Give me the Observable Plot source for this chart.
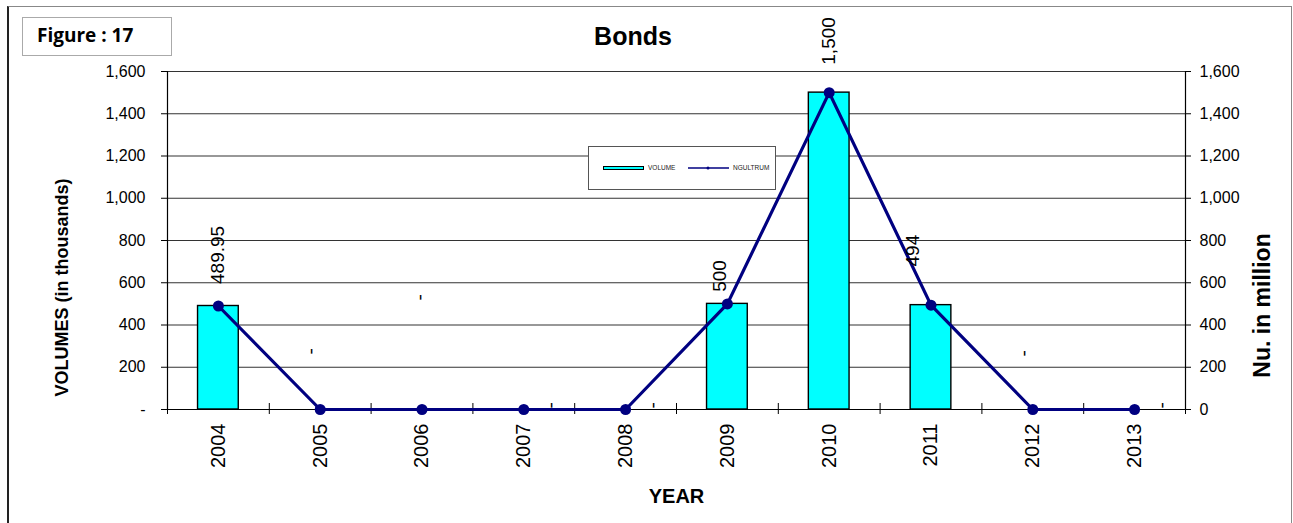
<!DOCTYPE html>
<html>
<head>
<meta charset="utf-8">
<script src="https://cdn.jsdelivr.net/npm/d3@7"></script>
<script src="https://cdn.jsdelivr.net/npm/@observablehq/plot@0.6"></script>
<style>
  body { margin: 0; background: #fff; font-family: "Liberation Sans", Arial, sans-serif; }
  #wrap { position: relative; width: 1293px; height: 523px; overflow: hidden; }
  #border { position: absolute; left: 7px; top: 6px; width: 1285px; height: 600px;
            border: 1px solid #888; border-left: 2px solid #222; box-sizing: border-box; }
  #chart { position: absolute; left: 0; top: 0; }
  #fig { position: absolute; left: 22px; top: 17px; width: 150px; height: 39px; box-sizing: border-box;
         border: 1px solid #aaa; font: bold 19px "Open Sans", Lato, sans-serif; padding: 4px 0 0 14px;
         background: #fff; }
  #title { position: absolute; left: 533px; width: 200px; top: 22px; text-align: center;
           font: bold 25px "Liberation Sans", Arial, sans-serif; }
  #legend { position: absolute; left: 588px; top: 146px; width: 188px; height: 44px; box-sizing: border-box;
            background: #fff; border: 1px solid #555; }
  #legend .sw { position: absolute; left: 14px; top: 19px; width: 41px; height: 4px; background: #00ffff;
                border: 1.5px solid #000; box-sizing: border-box; }
  #legend .tx { position: absolute; top: 17px; font-size: 6.5px; color: #222; }
</style>
</head>
<body>
<div id="wrap">
  <div id="border"></div>
  <div id="chart"></div>
  <div id="fig">Figure : 17</div>
  <div id="title">Bonds</div>
  <div id="legend">
    <div class="sw"></div>
    <div class="tx" style="left:59px">VOLUME</div>
    <svg style="position:absolute;left:98px;top:16px" width="44" height="10">
      <line x1="1" y1="5" x2="42" y2="5" stroke="#000080" stroke-width="1.5"></line>
      <circle cx="21" cy="5" r="1.5" fill="#000080"></circle>
    </svg>
    <div class="tx" style="left:144px">NGULTRUM</div>
  </div>
</div>
<script>
// Bond issues by year
const years    = [2004, 2005, 2006, 2007, 2008, 2009, 2010, 2011, 2012, 2013];
const volume   = [489.95, 0, 0, 0, 0, 500, 1500, 494, 0, 0];   // thousands of bonds
const ngultrum = [489.95, 0, 0, 0, 0, 500, 1500, 494, 0, 0];   // Nu. in million
const yTicks   = [0, 200, 400, 600, 800, 1000, 1200, 1400, 1600];

const rows = years.map((year, i) => ({year, volume: volume[i], ngultrum: ngultrum[i]}));

// Category boundaries for the x-axis tick marks
const bounds = d3.range(years.length + 1).map(i => years[0] - 0.5 + i);

// Where each value label sits (offset in years, lift in value units)
const labelPlacement = {
  2005: [-0.09, 156], 2006: [-0.02, 412], 2007: [0.27, -99], 2008: [0.27, -99],
  2009: [-0.07, -47], 2010: [0, 28], 2011: [-0.18, 79], 2012: [-0.09, 147], 2013: [0.27, -99]
};
const labelFmt = v => v === 0 ? "-" : d3.format(",")(v);
const labels = rows.map(d => {
  const [ox, oy] = labelPlacement[d.year] || [0, 0];
  return {x: d.year + ox, y: d.ngultrum === 0 ? oy : d.ngultrum + oy, text: labelFmt(d.ngultrum)};
});

const font = '"Liberation Sans", Arial, sans-serif';

const chart = Plot.plot({
  width: 1293,
  height: 523,
  marginLeft: 167,
  marginRight: 108,
  marginTop: 71,
  marginBottom: 114,
  style: {fontFamily: font, fontSize: "16px", background: "transparent", overflow: "visible", color: "#000"},
  x: {type: "linear", domain: [2003.5, 2013.5]},
  y: {domain: [0, 1600]},
  marks: [
    Plot.gridY(yTicks, {stroke: "#333", strokeOpacity: 1, strokeWidth: 1.1}),
    Plot.rectY(rows, {x1: d => d.year - 0.2, x2: d => d.year + 0.2, y1: 0, y2: "volume",
                      fill: "#00ffff", stroke: "#000", strokeWidth: 1.4}),
    Plot.ruleY([0], {stroke: "#000", strokeWidth: 1.2}),
    Plot.ruleX([2003.5, 2013.5], {stroke: "#000", strokeWidth: 1.2}),
    Plot.axisY({anchor: "left", ticks: yTicks, tickSize: 6, tickPadding: 16, fontSize: 16,
                tickFormat: v => v === 0 ? "-" : d3.format(",")(v), label: null}),
    Plot.axisY({anchor: "right", ticks: yTicks, tickSize: 5, tickPadding: 9, fontSize: 16,
                tickFormat: d3.format(","), label: null}),
    Plot.axisX({ticks: years, tickSize: 0, tickRotate: -90, tickPadding: 14, fontSize: 20,
                tickFormat: d => String(d), label: null}),
    Plot.axisX({ticks: bounds, tickSize: 11, dy: -6, tickFormat: () => "", label: null}),
    Plot.line(rows, {x: "year", y: "ngultrum", stroke: "#000080", strokeWidth: 3.2}),
    Plot.dot(rows, {x: "year", y: "ngultrum", r: 5.5, fill: "#000080"}),
    Plot.text(labels, {x: "x", y: "y", text: "text", rotate: -90, textAnchor: "start",
                       dy: -22, fontSize: 19}),
    Plot.text(["VOLUMES (in thousands)"], {frameAnchor: "left", textAnchor: "middle", dx: -105, dy: 47,
                       rotate: -90, fontSize: 18, fontWeight: "bold"}),
    Plot.text(["Nu. in million"], {frameAnchor: "right", textAnchor: "middle", dx: 77, dy: 65,
                       rotate: -90, fontSize: 23, fontWeight: "bold"}),
    Plot.text(["YEAR"], {frameAnchor: "bottom", dy: 93, fontSize: 20, fontWeight: "bold"})
  ]
});
document.getElementById("chart").appendChild(chart);
</script>
</body>
</html>
